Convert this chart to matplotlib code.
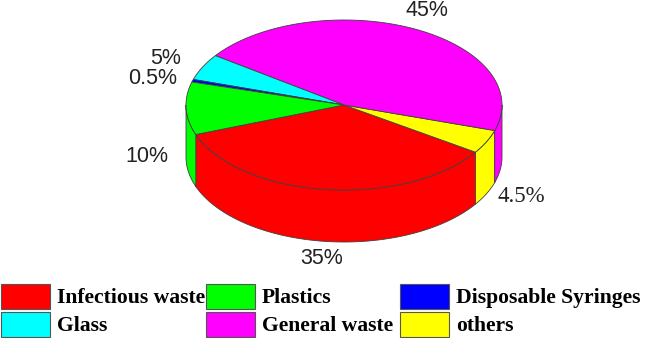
import numpy as np
import matplotlib
matplotlib.use('Agg')
import matplotlib.pyplot as plt
from matplotlib.patches import Rectangle

# shares in percent, counter-clockwise starting from the red slice
names = ['Infectious waste', 'others', 'General waste', 'Glass', 'Disposable Syringes', 'Plastics']
values = [35, 4.5, 45, 5, 0.5, 10]
labels = ['35%', '4.5%', '45%', '5%', '0.5%', '10%']
colors = ['#ff0000', '#ffff00', '#ff00ff', '#00ffff', '#0000ff', '#00ff00']

legend_order = ['Infectious waste', 'Plastics', 'Disposable Syringes',
                'Glass', 'General waste', 'others']

cx, cy = 344, 105
rx, ry = 158, 85
depth = 52
start = 200.3
edge = '#404040'

fig = plt.figure(figsize=(6.45, 3.38), dpi=100)
ax = fig.add_axes([0, 0, 1, 1])
ax.set_xlim(0, 645)
ax.set_ylim(338, 0)
ax.axis('off')


def arc(a, b):
    t = np.radians(np.linspace(a, b, 200))
    return cx + rx * np.cos(t), cy - ry * np.sin(t)


angles = start + np.cumsum([0] + values) * 3.6

# walls first, only the front half shows
for i in range(len(values)):
    a, b = angles[i], angles[i + 1]
    for lo, hi in [(180, 360), (540, 720)]:
        a2, b2 = max(a, lo), min(b, hi)
        if b2 <= a2:
            continue
        x, y = arc(a2, b2)
        ax.fill(np.r_[x, x[::-1]], np.r_[y, y[::-1] + depth],
                fc=colors[i], ec=edge, lw=0.6, zorder=2)

# top faces
for i in range(len(values)):
    x, y = arc(angles[i], angles[i + 1])
    ax.fill(np.r_[cx, x], np.r_[cy, y], fc=colors[i], ec=edge, lw=0.6, zorder=3)

sans = dict(family='Liberation Sans', fontsize=15.5, color='#222222', ha='center', va='center')
ax.text(427, 11, labels[2], **sans)
ax.text(166, 59, labels[3], **sans)
ax.text(153, 79, labels[4], **sans)
ax.text(147, 157, labels[5], **sans)
ax.text(322, 258, labels[0], **sans)
ax.text(521, 197, labels[1], family='Liberation Serif', fontsize=16.5, color='#222222',
        ha='center', va='center')

# legend, 3 columns by 2 rows
col_x = [1, 206, 400]
row_y = [284, 312]
for k, name in enumerate(legend_order):
    px = col_x[k % 3]
    py = row_y[k // 3]
    ax.add_patch(Rectangle((px, py), 49, 25, fc=colors[names.index(name)], ec='#555555', lw=0.8))
    ax.text(px + 56, py + 14, name, family='Liberation Serif', weight='bold',
            fontsize=15.6, color='black', ha='left', va='center')

fig.savefig('out.png', dpi=100)
